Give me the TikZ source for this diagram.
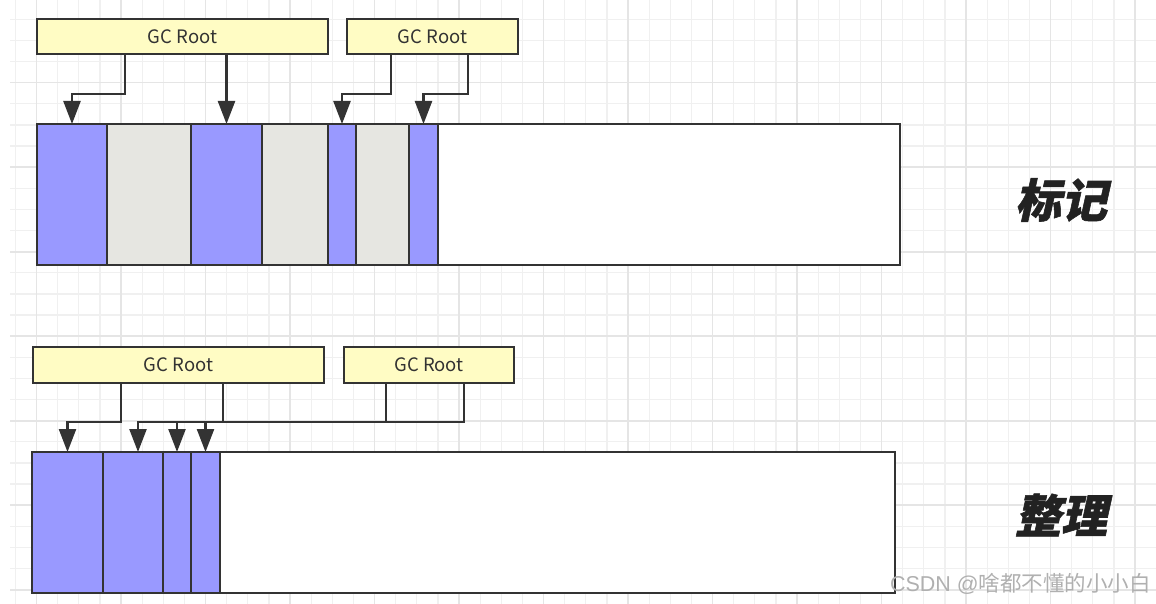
\documentclass[tikz,border=0pt]{standalone}
\usepackage{fontspec}
\setmainfont{Noto Sans CJK SC}
\newfontfamily\cjk{Noto Sans CJK SC}
\newfontfamily\cjkhead[FakeSlant=0.22,FakeBold=1.2]{Noto Sans CJK SC}
\newfontfamily\lat{Liberation Sans}
\usetikzlibrary{arrows.meta}
\definecolor{lc}{HTML}{333333}
\definecolor{live}{HTML}{9999FF}
\definecolor{dead}{HTML}{E6E6E1}
\definecolor{rootbg}{HTML}{FFFCC4}
\definecolor{txt}{HTML}{333333}
\definecolor{hd}{HTML}{222222}
\definecolor{wm}{HTML}{B0B0B0}
\definecolor{gminor}{HTML}{F0F0F0}
\definecolor{gmajor}{HTML}{E5E5E5}
\begin{document}
\begin{tikzpicture}[x=1pt,y=-1pt,
  minor/.style={draw=gminor, line width=1.2pt},
  major/.style={draw=gmajor, line width=1.6pt},
  blk/.style={draw=lc, line width=2.4pt, rectangle, inner sep=0pt, outer sep=0pt,
    anchor=north west, minimum height=141pt},
  livebox/.style={blk, fill=live},
  deadbox/.style={blk, fill=dead},
  freebox/.style={blk, fill=white},
  root/.style={draw=lc, line width=2.4pt, fill=rootbg, rectangle, inner sep=0pt,
    outer sep=0pt, minimum height=35pt, anchor=north west,
    font=\cjk\fontsize{18.5}{20}\selectfont, text=txt},
  ln/.style={draw=lc, line width=2.4pt},
  conn/.style={ln, -{Triangle[length=23pt,width=17pt]}},
  head/.style={font=\cjkhead\bfseries\fontsize{46}{50}\selectfont, text=hd, inner sep=0pt}
]
\useasboundingbox (0,0) rectangle (1156,604);
\fill[white] (0,0) rectangle (1156,604);

% background grid
\begin{scope}
  \clip (10,0) rectangle (1156,604);
  \foreach \n in {0,...,54}{\draw[minor] ({15.4+21.125*\n},0) -- ++(0,604);}
  \foreach \n in {0,...,29}{\draw[minor] (10,{-1.8+21.125*\n}) -- ++(1146,0);}
  \foreach \n in {0,...,13}{\draw[major] ({36.5+84.5*\n},0) -- ++(0,604);}
  \foreach \n in {0,...,7}{\draw[major] (10,{-1.8+84.5*\n}) -- ++(1146,0);}
\end{scope}

% ---------- mark phase ----------
\node[root, minimum width=291pt] (r1) at (37,19) {GC Root};
\node[root, minimum width=171pt] (r2) at (347,19) {GC Root};

\node[freebox, minimum width=462pt] (a8) at (438,124) {};
\node[livebox, minimum width=70pt] (a1) at (37,124) {};
\node[deadbox, minimum width=84pt] (a2) at (107,124) {};
\node[livebox, minimum width=71pt] (a3) at (191,124) {};
\node[deadbox, minimum width=66pt] (a4) at (262,124) {};
\node[livebox, minimum width=28pt] (a5) at (328,124) {};
\node[deadbox, minimum width=53pt] (a6) at (356,124) {};
\node[livebox, minimum width=29pt] (a7) at (409,124) {};

\draw[conn] ([xshift=88pt]r1.south west) -- ++(0,40) -| (a1.north);
\draw[conn] (a3.north |- r1.south) -- (a3.north);
\draw[conn] ([xshift=44pt]r2.south west) -- ++(0,40) -| (a5.north);
\draw[conn] ([xshift=121pt]r2.south west) -- ++(0,40) -| (a7.north);

\node[head] (m1) at (1061,200) {标记};

% ---------- compact phase ----------
\node[root, minimum width=291pt, minimum height=36pt] (r3) at (33,347) {GC Root};
\node[root, minimum width=170pt, minimum height=36pt] (r4) at (344,347) {GC Root};

\node[freebox, minimum width=675pt] (b5) at (220,452) {};
\node[livebox, minimum width=71pt] (b1) at (32,452) {};
\node[livebox, minimum width=60pt] (b2) at (103,452) {};
\node[livebox, minimum width=28pt] (b3) at (163,452) {};
\node[livebox, minimum width=29pt] (b4) at (191,452) {};

\coordinate (lvl) at ([yshift=-39pt]r3.south);
\coordinate (k2) at ([xshift=190pt]r3.south west);
\coordinate (k3) at ([xshift=42pt]r4.south west);
\coordinate (k4) at ([xshift=120pt]r4.south west);

\draw[conn] ([xshift=88pt]r3.south west) -- ++(0,39) -| (b1.north);
\draw[ln] (k2) -- (k2 |- lvl);
\draw[ln] (k3) -- (k3 |- lvl);
\draw[conn] (k4) -- (k4 |- lvl) -| ([xshift=5pt]b2.north);
\draw[conn] (b3.north |- lvl) -- (b3.north);
\draw[conn] (b4.north |- lvl) -- (b4.north);

\node[head] (m2) at (1061,515) {整理};

\node[anchor=east, inner sep=0pt, font=\cjk\fontsize{21.5}{23}\selectfont, text=wm] (wmk) at (1151,584) {{\lat CSDN @}啥都不懂的小小白};
\end{tikzpicture}
\end{document}
